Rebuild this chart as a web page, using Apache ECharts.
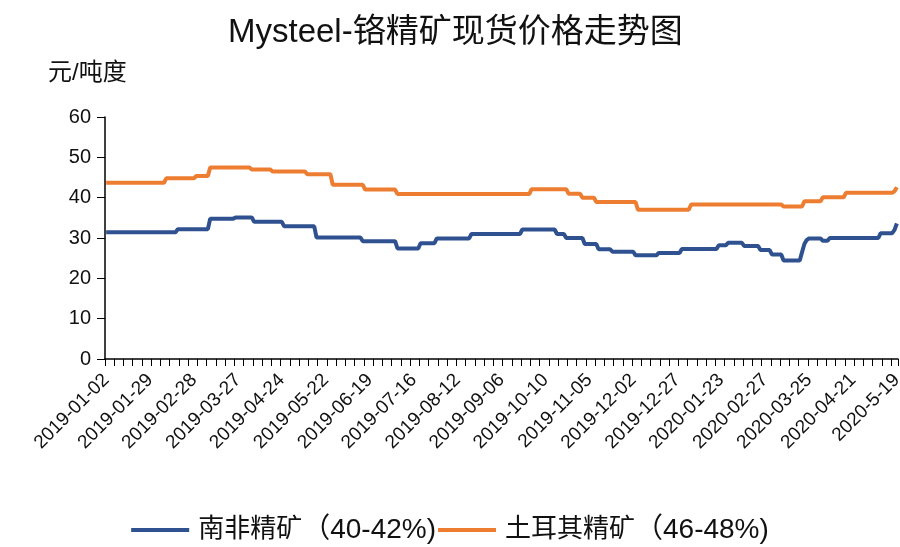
<!DOCTYPE html>
<html>
<head>
<meta charset="utf-8">
<script src="https://cdn.jsdelivr.net/npm/echarts/dist/echarts.min.js"></script>
<style>
html,body{margin:0;padding:0;background:#ffffff;}
#chart{width:900px;height:547px;}
</style>
</head>
<body>
<div id="chart"></div>
<script>
// ---------------- data ----------------
const titleText = 'Mysteel-铬精矿现货价格走势图';
const unitText = '元/吨度';
const seriesNames = ['南非精矿（40-42%)', '土耳其精矿（46-48%)'];
const seriesShort = ['南非精矿', '土耳其精矿'];
const seriesGrade = ['（40-42%)', '（46-48%)'];
const yMin = 0, yMax = 60, yStep = 10;

const dates = [
  // 2019-01
  '2019-01-02','2019-01-03','2019-01-04','2019-01-07','2019-01-08','2019-01-09','2019-01-10','2019-01-11','2019-01-14','2019-01-15','2019-01-16','2019-01-17','2019-01-18','2019-01-21','2019-01-22','2019-01-23','2019-01-24','2019-01-25','2019-01-28','2019-01-29','2019-01-30','2019-01-31',
  // 2019-02
  '2019-02-01','2019-02-02','2019-02-03','2019-02-11','2019-02-12','2019-02-13','2019-02-14','2019-02-15','2019-02-18','2019-02-19','2019-02-20','2019-02-21','2019-02-22','2019-02-25','2019-02-26','2019-02-27','2019-02-28',
  // 2019-03
  '2019-03-01','2019-03-04','2019-03-05','2019-03-06','2019-03-07','2019-03-08','2019-03-11','2019-03-12','2019-03-13','2019-03-14','2019-03-15','2019-03-18','2019-03-19','2019-03-20','2019-03-21','2019-03-22','2019-03-25','2019-03-26','2019-03-27','2019-03-28','2019-03-29',
  // 2019-04
  '2019-04-01','2019-04-02','2019-04-03','2019-04-04','2019-04-08','2019-04-09','2019-04-10','2019-04-11','2019-04-12','2019-04-15','2019-04-16','2019-04-17','2019-04-18','2019-04-19','2019-04-22','2019-04-23','2019-04-24','2019-04-25','2019-04-26','2019-04-28','2019-04-29','2019-04-30',
  // 2019-05
  '2019-05-05','2019-05-06','2019-05-07','2019-05-08','2019-05-09','2019-05-10','2019-05-13','2019-05-14','2019-05-15','2019-05-16','2019-05-17','2019-05-20','2019-05-21','2019-05-22','2019-05-23','2019-05-24','2019-05-27','2019-05-28','2019-05-29','2019-05-30','2019-05-31',
  // 2019-06
  '2019-06-03','2019-06-04','2019-06-05','2019-06-06','2019-06-10','2019-06-11','2019-06-12','2019-06-13','2019-06-14','2019-06-17','2019-06-18','2019-06-19','2019-06-20','2019-06-21','2019-06-24','2019-06-25','2019-06-26','2019-06-27','2019-06-28',
  // 2019-07
  '2019-07-01','2019-07-02','2019-07-03','2019-07-04','2019-07-05','2019-07-08','2019-07-09','2019-07-10','2019-07-11','2019-07-12','2019-07-15','2019-07-16','2019-07-17','2019-07-18','2019-07-19','2019-07-22','2019-07-23','2019-07-24','2019-07-25','2019-07-26','2019-07-29','2019-07-30','2019-07-31',
  // 2019-08
  '2019-08-01','2019-08-02','2019-08-05','2019-08-06','2019-08-07','2019-08-08','2019-08-09','2019-08-12','2019-08-13','2019-08-14','2019-08-15','2019-08-16','2019-08-19','2019-08-20','2019-08-21','2019-08-22','2019-08-23','2019-08-26','2019-08-27','2019-08-28','2019-08-29','2019-08-30',
  // 2019-09
  '2019-09-02','2019-09-03','2019-09-04','2019-09-05','2019-09-06','2019-09-09','2019-09-10','2019-09-11','2019-09-12','2019-09-16','2019-09-17','2019-09-18','2019-09-19','2019-09-20','2019-09-23','2019-09-24','2019-09-25','2019-09-26','2019-09-27','2019-09-29','2019-09-30',
  // 2019-10
  '2019-10-08','2019-10-09','2019-10-10','2019-10-11','2019-10-12','2019-10-14','2019-10-15','2019-10-16','2019-10-17','2019-10-18','2019-10-21','2019-10-22','2019-10-23','2019-10-24','2019-10-25','2019-10-28','2019-10-29','2019-10-30','2019-10-31',
  // 2019-11
  '2019-11-01','2019-11-04','2019-11-05','2019-11-06','2019-11-07','2019-11-08','2019-11-11','2019-11-12','2019-11-13','2019-11-14','2019-11-15','2019-11-18','2019-11-19','2019-11-20','2019-11-21','2019-11-22','2019-11-25','2019-11-26','2019-11-27','2019-11-28','2019-11-29',
  // 2019-12
  '2019-12-02','2019-12-03','2019-12-04','2019-12-05','2019-12-06','2019-12-09','2019-12-10','2019-12-11','2019-12-12','2019-12-13','2019-12-16','2019-12-17','2019-12-18','2019-12-19','2019-12-20','2019-12-23','2019-12-24','2019-12-25','2019-12-26','2019-12-27','2019-12-30','2019-12-31',
  // 2020-01
  '2020-01-02','2020-01-03','2020-01-06','2020-01-07','2020-01-08','2020-01-09','2020-01-10','2020-01-13','2020-01-14','2020-01-15','2020-01-16','2020-01-17','2020-01-19','2020-01-20','2020-01-21','2020-01-22','2020-01-23',
  // 2020-02
  '2020-02-03','2020-02-04','2020-02-05','2020-02-06','2020-02-07','2020-02-10','2020-02-11','2020-02-12','2020-02-13','2020-02-14','2020-02-17','2020-02-18','2020-02-19','2020-02-20','2020-02-21','2020-02-24','2020-02-25','2020-02-26','2020-02-27','2020-02-28',
  // 2020-03
  '2020-03-02','2020-03-03','2020-03-04','2020-03-05','2020-03-06','2020-03-09','2020-03-10','2020-03-11','2020-03-12','2020-03-13','2020-03-16','2020-03-17','2020-03-18','2020-03-19','2020-03-20','2020-03-23','2020-03-24','2020-03-25','2020-03-26','2020-03-27','2020-03-30','2020-03-31',
  // 2020-04
  '2020-04-01','2020-04-02','2020-04-03','2020-04-06','2020-04-07','2020-04-08','2020-04-09','2020-04-10','2020-04-13','2020-04-14','2020-04-15','2020-04-16','2020-04-17','2020-04-20','2020-04-21','2020-04-22','2020-04-23','2020-04-24','2020-04-26','2020-04-27','2020-04-28','2020-04-29','2020-04-30',
  // 2020-05
  '2020-05-06','2020-05-07','2020-05-08','2020-05-09','2020-05-11','2020-05-12','2020-05-13','2020-05-14','2020-05-15','2020-05-18','2020-5-19'
];

// 南非精矿（40-42%)
const southAfrica = [
  // 2019-01 (22)
  31.4,31.4,31.4,31.4,31.4, 31.4,31.4,31.4,31.4,31.4, 31.4,31.4,31.4,31.4,31.4, 31.4,31.4,31.4,31.4,31.4, 31.4,31.4,
  // 2019-02 (17)
  31.4,31.4,31.4,31.4,31.4, 31.4,31.4,31.4,31.4, 32.2,32.2,32.2,32.2,32.2, 32.2,32.2,32.2,
  // 2019-03 (21)
  32.2,32.2,32.2,32.2,32.2,32.2, 34.8,34.8,34.8,34.8,34.8, 34.8,34.8,34.8,34.8,34.8, 34.8, 35.1,35.1,35.1,35.1,
  // 2019-04 (22)
  35.1,35.1,35.1,35.1, 34.0,34.0,34.0,34.0,34.0, 34.0,34.0,34.0,34.0,34.0, 34.0,34.0,34.0, 32.9,32.9,32.9,32.9,32.9,
  // 2019-05 (21)
  32.9,32.9,32.9,32.9,32.9, 32.9,32.9,32.9,32.9, 30.1,30.1,30.1,30.1,30.1, 30.1,30.1,30.1,30.1,30.1, 30.1,30.1,
  // 2019-06 (19)
  30.1,30.1,30.1,30.1,30.1, 30.1,30.1,30.1, 29.2,29.2,29.2,29.2,29.2, 29.2,29.2,29.2,29.2,29.2, 29.2,
  // 2019-07 (23)
  29.2,29.2,29.2,29.2, 27.4,27.4,27.4,27.4,27.4, 27.4,27.4,27.4,27.4,27.4, 28.7,28.7,28.7,28.7,28.7, 28.7,28.7, 29.9,29.9,
  // 2019-08 (22)
  29.9,29.9,29.9,29.9,29.9, 29.9,29.9,29.9,29.9,29.9, 29.9,29.9,29.9, 31.0,31.0,31.0,31.0,31.0, 31.0,31.0,31.0,31.0,
  // 2019-09 (21)
  31.0,31.0,31.0,31.0,31.0, 31.0,31.0,31.0,31.0,31.0, 31.0,31.0,31.0, 32.1,32.1,32.1,32.1,32.1, 32.1,32.1,32.1,
  // 2019-10 (19)
  32.1,32.1,32.1,32.1,32.1, 32.1,32.1, 31.0,31.0,31.0,31.0, 30.0,30.0,30.0,30.0,30.0, 30.0,30.0,30.0,
  // 2019-11 (21)
  28.5,28.5,28.5,28.5,28.5, 28.5, 27.2,27.2,27.2,27.2,27.2, 27.2, 26.6,26.6,26.6,26.6,26.6, 26.6,26.6,26.6,26.6,
  // 2019-12 (22)
  26.6, 25.7,25.7,25.7,25.7,25.7, 25.7,25.7,25.7,25.7,25.7, 26.3,26.3,26.3,26.3,26.3, 26.3,26.3,26.3,26.3,26.3, 27.3,
  // 2020-01 (17)
  27.3,27.3,27.3,27.3,27.3, 27.3,27.3,27.3,27.3,27.3, 27.3,27.3,27.3,27.3,27.3, 28.2,28.2,
  // 2020-02 (20)
  28.2,28.2, 28.8,28.8,28.8,28.8,28.8, 28.8,28.8, 28.0,28.0,28.0,28.0,28.0, 28.0,28.0, 27.0,27.0,27.0,27.0,
  // 2020-03 (22)
  27.0, 25.9,25.9,25.9,25.9,25.9, 24.4,24.4,24.4,24.4,24.4, 24.4,24.4,24.4, 26.5,28.5,29.5, 29.9,29.9,29.9,29.9,29.9,
  // 2020-04 (23)
  29.9, 29.3,29.3,29.3, 30.0,30.0,30.0,30.0,30.0, 30.0,30.0,30.0,30.0,30.0, 30.0,30.0,30.0,30.0,30.0, 30.0,30.0,30.0,30.0,
  // 2020-05 (11)
  30.0,30.0,30.0, 31.2,31.2,31.2,31.2,31.2, 31.2, 32.0,33.6
];

// 土耳其精矿（46-48%)
const turkey = [
  // 2019-01 (22)
  43.7,43.7,43.7,43.7,43.7, 43.7,43.7,43.7,43.7,43.7, 43.7,43.7,43.7,43.7,43.7, 43.7,43.7,43.7,43.7,43.7, 43.7,43.7,
  // 2019-02 (17)
  43.7,43.7,43.7,43.7, 44.8,44.8,44.8,44.8,44.8, 44.8,44.8,44.8,44.8,44.8, 44.8,44.8,44.8,
  // 2019-03 (21)
  45.4,45.4,45.4,45.4,45.4,45.4, 47.5,47.5,47.5,47.5,47.5, 47.5,47.5,47.5,47.5,47.5, 47.5,47.5,47.5,47.5,47.5,
  // 2019-04 (22)
  47.5,47.5,47.5, 47.0,47.0,47.0,47.0,47.0, 47.0,47.0,47.0,47.0, 46.5,46.5,46.5,46.5,46.5, 46.5,46.5,46.5,46.5,46.5,
  // 2019-05 (21)
  46.5,46.5,46.5,46.5,46.5, 45.8,45.8,45.8,45.8,45.8, 45.8,45.8,45.8,45.8,45.8, 45.8, 43.2,43.2,43.2,43.2,43.2,
  // 2019-06 (19)
  43.2,43.2,43.2,43.2,43.2, 43.2,43.2,43.2,43.2, 42.0,42.0,42.0,42.0,42.0, 42.0,42.0,42.0,42.0,42.0,
  // 2019-07 (23)
  42.0,42.0,42.0,42.0, 40.9,40.9,40.9,40.9,40.9, 40.9,40.9,40.9,40.9,40.9, 40.9,40.9,40.9,40.9,40.9, 40.9,40.9,40.9,40.9,
  // 2019-08 (22)
  40.9,40.9,40.9,40.9,40.9, 40.9,40.9,40.9,40.9,40.9, 40.9,40.9,40.9,40.9,40.9, 40.9,40.9,40.9,40.9,40.9, 40.9,40.9,
  // 2019-09 (21)
  40.9,40.9,40.9,40.9,40.9, 40.9,40.9,40.9,40.9,40.9, 40.9,40.9,40.9,40.9,40.9, 40.9,40.9, 42.1,42.1,42.1,42.1,
  // 2019-10 (19)
  42.1,42.1,42.1,42.1,42.1, 42.1,42.1,42.1,42.1,42.1, 42.1,42.1, 41.0,41.0,41.0,41.0,41.0, 41.0, 40.0,
  // 2019-11 (21)
  40.0,40.0,40.0,40.0,40.0, 38.9,38.9,38.9,38.9,38.9, 38.9,38.9,38.9,38.9,38.9, 38.9,38.9,38.9,38.9,38.9, 38.9,
  // 2019-12 (22)
  38.9,38.9, 37.0,37.0,37.0,37.0,37.0, 37.0,37.0,37.0,37.0,37.0, 37.0,37.0,37.0,37.0,37.0, 37.0,37.0,37.0,37.0,37.0,
  // 2020-01 (17)
  37.0,37.0,37.0, 38.3,38.3,38.3,38.3,38.3, 38.3,38.3,38.3,38.3,38.3, 38.3,38.3,38.3,38.3,
  // 2020-02 (20)
  38.3,38.3,38.3,38.3,38.3, 38.3,38.3,38.3,38.3,38.3, 38.3,38.3,38.3,38.3,38.3, 38.3,38.3,38.3,38.3,38.3,
  // 2020-03 (22)
  38.3,38.3,38.3,38.3,38.3,38.3, 37.8,37.8,37.8,37.8,37.8, 37.8,37.8,37.8,37.8, 39.1,39.1,39.1,39.1,39.1, 39.1,39.1,
  // 2020-04 (23)
  39.1, 40.1,40.1,40.1,40.1,40.1, 40.1,40.1,40.1,40.1,40.1, 41.2,41.2,41.2,41.2,41.2, 41.2,41.2,41.2,41.2,41.2, 41.2,41.2,
  // 2020-05 (11)
  41.2,41.2,41.2,41.2,41.2, 41.2,41.2,41.2,41.2, 41.6,42.6
];

// ---------------- chart ----------------
const blue = '#2F5190';
const orange = '#ED7D31';
const font = 'Liberation Sans, "Noto Sans CJK SC", sans-serif';

const chart = echarts.init(document.getElementById('chart'), null, {renderer: 'canvas'});
chart.setOption({
  animation: false,
  backgroundColor: '#ffffff',
  title: {
    text: titleText,
    left: 223,
    top: 11,
    textStyle: {fontSize: 33, fontWeight: 'normal', color: '#111', fontFamily: font}
  },
  graphic: [{
    type: 'text',
    left: 48,
    top: 61,
    style: {text: unitText, fontSize: 24, fill: '#111', fontFamily: font}
  }],
  legend: {
    top: 511,
    left: 'center',
    icon: 'rect',
    itemWidth: 58,
    itemHeight: 4,
    itemGap: 2,
    data: seriesNames,
    formatter: function (name) {
      const k = seriesNames.indexOf(name);
      return '{c|' + seriesShort[k] + '}{g|' + seriesGrade[k] + '}';
    },
    textStyle: {
      fontFamily: font,
      color: '#111',
      rich: {
        c: {fontSize: 26, lineHeight: 30, fontFamily: font, color: '#111', padding: [0, 0, 0, 4]},
        g: {fontSize: 28, lineHeight: 30, fontFamily: font, color: '#111'}
      }
    }
  },
  grid: {left: 105, right: 2, top: 117, bottom: 188, containLabel: false, outerBoundsMode: 'none'},
  xAxis: {
    type: 'category',
    data: dates,
    boundaryGap: true,
    axisLine: {lineStyle: {color: '#000', width: 1.5}},
    axisTick: {show: true, interval: 3, length: 7, lineStyle: {color: '#000', width: 1}},
    axisLabel: {interval: 18, rotate: 45, fontSize: 19, color: '#111', margin: 18, fontFamily: font},
    splitLine: {show: false}
  },
  yAxis: {
    type: 'value',
    min: yMin,
    max: yMax,
    interval: yStep,
    axisLine: {show: true, lineStyle: {color: '#000', width: 1.5}},
    axisTick: {show: true, length: 8, lineStyle: {color: '#000', width: 1}},
    axisLabel: {fontSize: 20, color: '#111', margin: 14, fontFamily: font},
    splitLine: {show: false}
  },
  series: [
    {
      name: seriesNames[0], type: 'line', data: southAfrica,
      showSymbol: false, symbol: 'none',
      lineStyle: {color: blue, width: 4}, itemStyle: {color: blue}
    },
    {
      name: seriesNames[1], type: 'line', data: turkey,
      showSymbol: false, symbol: 'none',
      lineStyle: {color: orange, width: 4}, itemStyle: {color: orange}
    }
  ]
});
</script>
</body>
</html>
